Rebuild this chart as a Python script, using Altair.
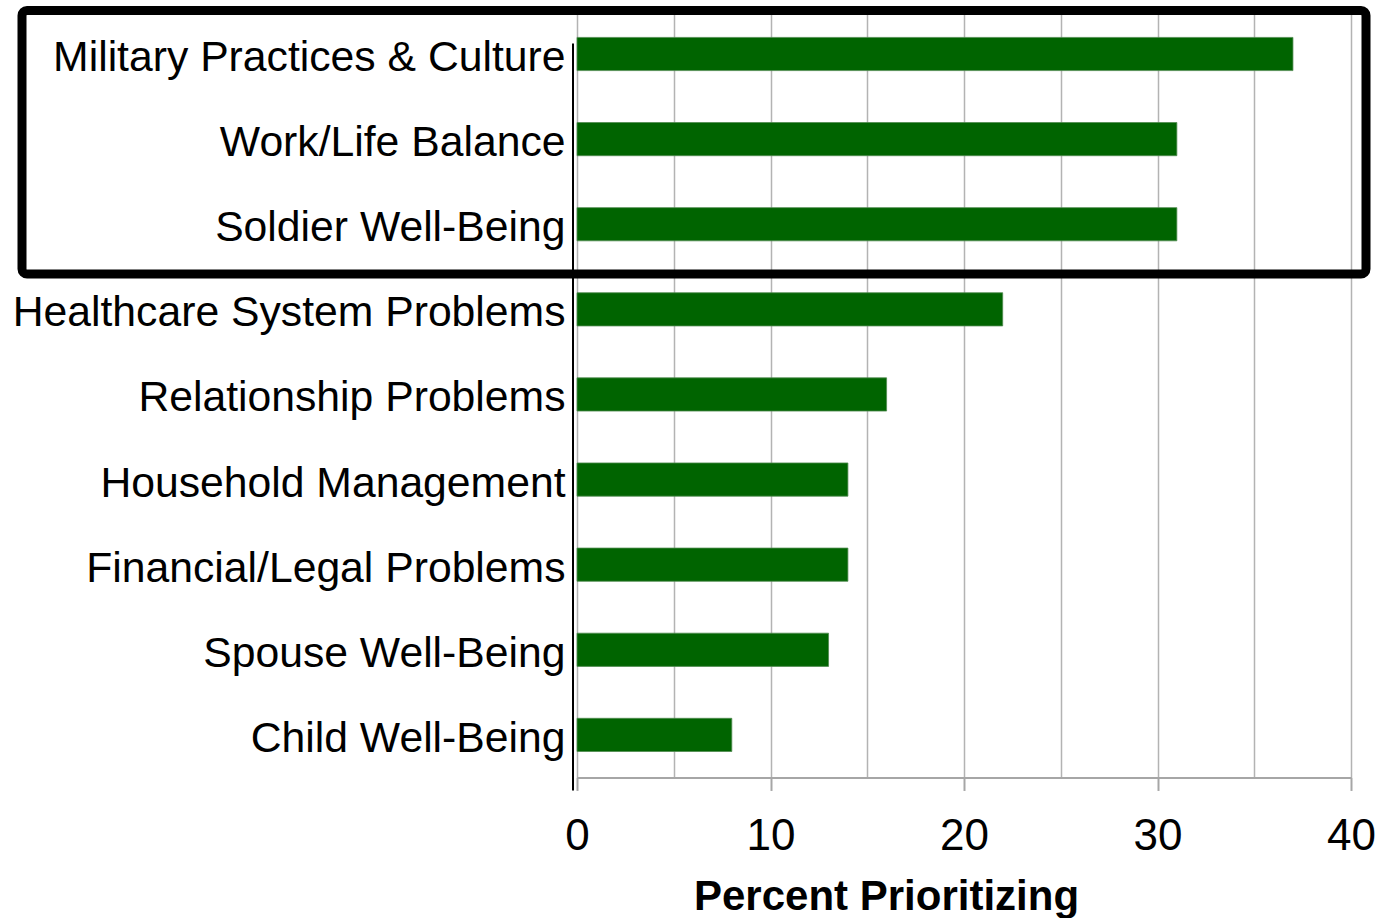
import altair as alt
import pandas as pd

categories = [
    "Military Practices & Culture",
    "Work/Life Balance",
    "Soldier Well-Being",
    "Healthcare System Problems",
    "Relationship Problems",
    "Household Management",
    "Financial/Legal Problems",
    "Spouse Well-Being",
    "Child Well-Being",
]
values = [37, 31, 31, 22, 16, 14, 14, 13, 8]
x_ticks = [0, 5, 10, 15, 20, 25, 30, 35, 40]

FONT = "Liberation Sans"

df = pd.DataFrame({"category": categories, "percent": values})
one = pd.DataFrame({"a": [0]})

bars = alt.Chart(df).mark_bar(color="#006400", stroke="#4f8a4f", strokeWidth=0.8).encode(
    x=alt.X(
        "percent:Q",
        scale=alt.Scale(domain=[0, 40], nice=False),
        axis=alt.Axis(
            values=x_ticks,
            grid=True,
            gridColor="#b3b3b3",
            gridWidth=1.5,
            domainColor="#a6a6a6",
            domainWidth=2,
            tickColor="#a6a6a6",
            tickWidth=2,
            tickSize=13,
            tickOpacity={"condition": {"test": "datum.value % 10 !== 0", "value": 0}, "value": 1},
            labelExpr="datum.value % 10 === 0 ? datum.label : ''",
            labelFlush=False,
            labelOverlap=False,
            labelFont=FONT,
            labelFontSize=44,
            labelColor="black",
            labelPadding=59,
            labelBaseline="alphabetic",
            title="Percent Prioritizing",
            titleFont=FONT,
            titleFontSize=42,
            titleFontWeight="bold",
            titleColor="black",
            titleX=309,
            titleY=132,
            titleBaseline="alphabetic",
            titleAlign="center",
        ),
    ),
    y=alt.Y(
        "category:N",
        sort=categories,
        scale=alt.Scale(paddingInner=0.61, paddingOuter=0.305),
        axis=alt.Axis(
            title=None,
            ticks=False,
            tickSize=0,
            domain=False,
            labelFont=FONT,
            labelFontSize=42.7,
            labelColor="black",
            labelPadding=12,
            labelOffset=4,
            labelLimit=800,
        ),
    ),
)

left_line = alt.Chart(one).mark_rule(color="black", strokeWidth=2).encode(
    x=alt.value(-4), y=alt.value(32), y2=alt.value(779)
)

box = alt.Chart(one).mark_rect(
    filled=False, stroke="black", strokeWidth=9, cornerRadius=5
).encode(
    x=alt.value(-555), x2=alt.value(789), y=alt.value(-1), y2=alt.value(262.5)
)

chart = alt.layer(bars, left_line, box).properties(
    width=774,
    height=766,
    padding={"left": 577, "top": 11.45, "right": 30, "bottom": 140.55},
    autosize="none",
    background="white",
).configure_view(stroke="transparent")

chart.save("out.html", embed_options={"renderer": "svg", "actions": False})
